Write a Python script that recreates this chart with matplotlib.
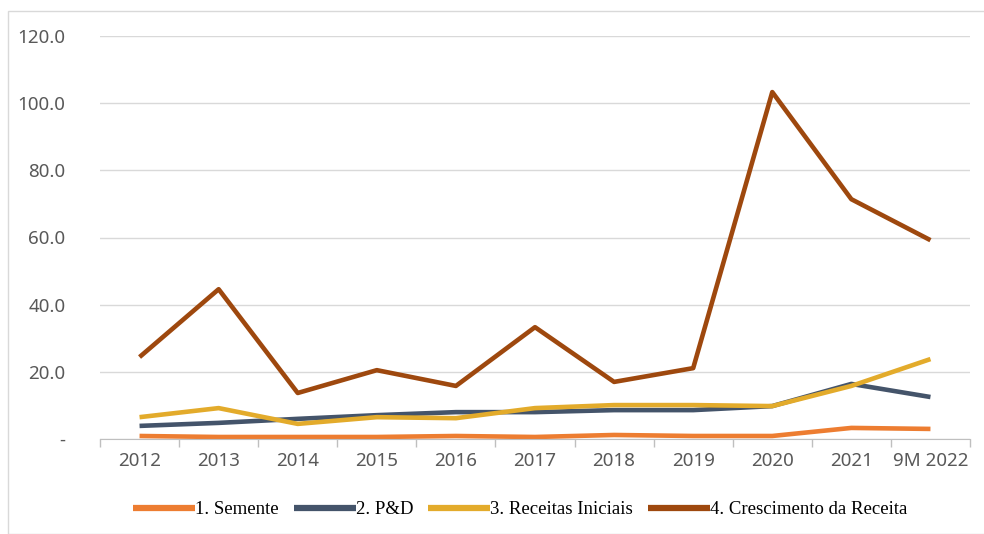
import matplotlib.pyplot as plt
from matplotlib.patches import Rectangle
from matplotlib.ticker import FixedLocator, FuncFormatter

periods = ["2012", "2013", "2014", "2015", "2016", "2017", "2018", "2019", "2020", "2021", "9M 2022"]

semente = [0.9, 0.6, 0.6, 0.6, 0.9, 0.6, 1.2, 0.9, 0.9, 3.3, 3.0]
pd_vals = [3.9, 4.8, 6.0, 7.1, 8.0, 8.0, 8.6, 8.6, 9.8, 16.4, 12.5]
receitas_iniciais = [6.5, 9.2, 4.5, 6.5, 6.2, 9.2, 10.1, 10.1, 9.8, 15.8, 23.8]
crescimento = [24.4, 44.6, 13.7, 20.5, 15.8, 33.3, 17.0, 21.1, 103.3, 71.4, 59.2]

series = [
    ("1. Semente", semente, "#ED7D31"),
    ("2. P&D", pd_vals, "#44546A"),
    ("3. Receitas Iniciais", receitas_iniciais, "#E3AB2B"),
    ("4. Crescimento da Receita", crescimento, "#9E480E"),
]

fig = plt.figure(figsize=(9.84, 5.34), dpi=100)
fig.patches.append(Rectangle((8 / 984, 0), 1, 1 - 11 / 534, transform=fig.transFigure,
                             fill=False, edgecolor="#D9D9D9", linewidth=1))

ax = fig.add_axes([100 / 984, 1 - 439 / 534, 870 / 984, (439 - 36) / 534])

x = list(range(len(periods)))
for label, vals, color in series:
    ax.plot(x, vals, color=color, linewidth=3.3, label=label, solid_capstyle="butt")

ax.set_xlim(-0.5, len(periods) - 0.5)
ax.set_ylim(0, 120)
ax.set_yticks([0, 20, 40, 60, 80, 100, 120])
ax.yaxis.set_major_formatter(FuncFormatter(lambda v, p: "-" if v == 0 else f"{v:.1f}"))
ax.yaxis.grid(True, color="#D9D9D9", linewidth=1)
ax.set_axisbelow(True)

ax.set_xticks(x)
ax.set_xticklabels(periods)
ax.xaxis.set_minor_locator(FixedLocator([i - 0.5 for i in range(len(periods) + 1)]))
ax.tick_params(axis="x", which="major", length=0, pad=9)
ax.tick_params(axis="x", which="minor", length=6, color="#BFBFBF", width=1)
ax.tick_params(axis="y", length=0, pad=25)

for t in ax.get_xticklabels() + ax.get_yticklabels():
    t.set_fontfamily("Noto Sans")
    t.set_fontsize(13.5)
    t.set_color("#595959")

for side in ["top", "right", "left"]:
    ax.spines[side].set_visible(False)
ax.spines["bottom"].set_color("#BFBFBF")

leg = ax.legend(loc="center", bbox_to_anchor=(0.5 - 15 / 870, -0.175), ncol=4, frameon=False,
                handlelength=3.3, handletextpad=0.0, columnspacing=0.8,
                prop={"family": "Liberation Serif", "size": 13.5})
for line in leg.get_lines():
    line.set_linewidth(4.5)

fig.savefig("out.png", dpi=100)
